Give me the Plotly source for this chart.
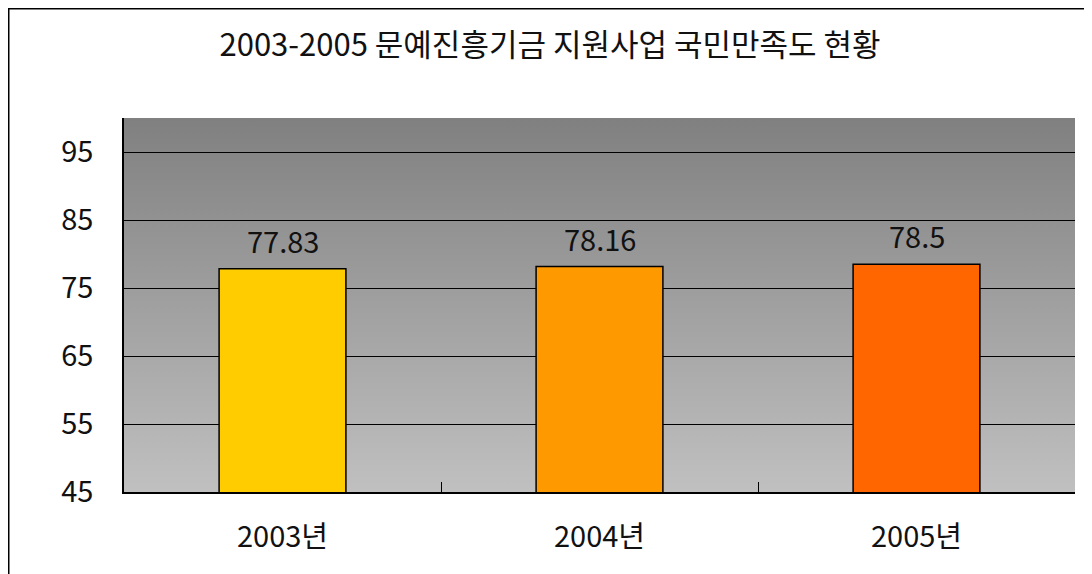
import base64
import plotly.graph_objects as go

categories = ["2003년", "2004년", "2005년"]
values = [77.83, 78.16, 78.5]
value_labels = ["77.83", "78.16", "78.5"]
bar_colors = ["#FFCC00", "#FF9900", "#FF6600"]
title_text = "2003-2005 문예진흥기금 지원사업 국민만족도 현황"

FONT = "Noto Sans CJK KR"
OFF = 8  # page body margin
W, H = 1092 - OFF, 574 - OFF
L, T = 124 - OFF, 118 - OFF
R = W - (1075 - OFF)
B = H - (492 - OFF)
pw, ph = W - L - R, H - T - B

svg = ('<svg xmlns="http://www.w3.org/2000/svg" width="100" height="100" preserveAspectRatio="none">'
       '<defs><linearGradient id="g" x1="0" y1="0" x2="0" y2="1">'
       '<stop offset="0" stop-color="#808080"/><stop offset="1" stop-color="#c0c0c0"/>'
       '</linearGradient></defs><rect width="100" height="100" fill="url(#g)"/></svg>')
bg_uri = "data:image/svg+xml;base64," + base64.b64encode(svg.encode()).decode()

fig = go.Figure()
fig.add_trace(go.Bar(
    x=categories, y=values, width=0.4,
    marker=dict(color=bar_colors, line=dict(color="black", width=1.5)),
    hoverinfo="skip",
))

for c, v, t in zip(categories, values, value_labels):
    fig.add_annotation(x=c, y=v, text=t, showarrow=False, yanchor="bottom", yshift=6,
                       font=dict(family=FONT, size=29, color="#111111"))

fig.add_layout_image(dict(source=bg_uri, xref="paper", yref="paper", x=0, y=1,
                          sizex=1, sizey=1, sizing="stretch", layer="below"))

# outer frame (left and top edges visible, others off-canvas)
fig.add_shape(type="rect", xref="paper", yref="paper",
              x0=(0.75 - L) / pw, x1=(W + 20 - L) / pw,
              y0=(H - B - (H + 20)) / ph, y1=(H - B - 0.75) / ph,
              line=dict(color="black", width=1.5), fillcolor="rgba(0,0,0,0)", layer="above")

fig.update_layout(
    width=W, height=H,
    margin=dict(l=L, r=R, t=T, b=B, pad=0),
    paper_bgcolor="white", plot_bgcolor="rgba(0,0,0,0)",
    showlegend=False,
    title=dict(text=title_text, x=(550 - OFF) / W, xanchor="center", y=1 - (45 - OFF) / H,
               yanchor="middle", font=dict(family=FONT, size=31, color="#111111")),
    xaxis=dict(type="category", tickson="boundaries", ticks="inside", ticklen=10,
               tickcolor="black", tickwidth=1, showline=True, linecolor="black", linewidth=1.5,
               showgrid=False, ticklabelstandoff=18,
               tickfont=dict(family=FONT, size=29, color="#111111")),
    yaxis=dict(range=[45, 100], tick0=45, dtick=10, showgrid=True, gridcolor="black", gridwidth=1,
               showline=True, linecolor="black", linewidth=1.5, ticks="", zeroline=False,
               ticklabelstandoff=23,
               tickfont=dict(family=FONT, size=29, color="#111111")),
)

fig.write_html("out.html")
